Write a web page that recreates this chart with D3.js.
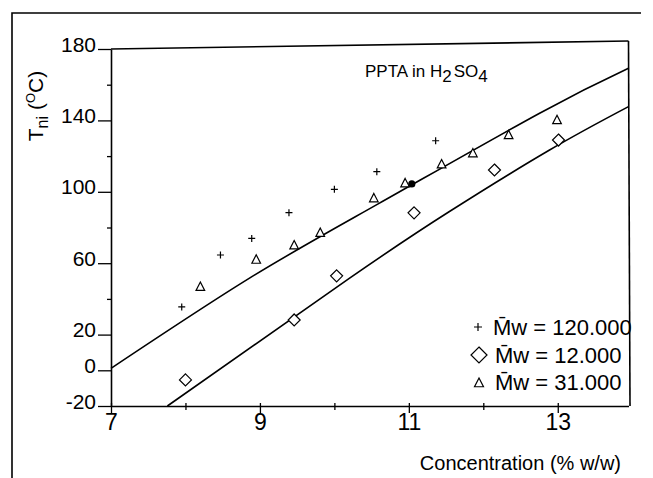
<!DOCTYPE html>
<html>
<head>
<meta charset="utf-8">
<script src="https://cdn.jsdelivr.net/npm/d3@7"></script>
<style>
  html, body { margin: 0; padding: 0; background: #fff; }
  svg { display: block; }
  text { font-family: "Liberation Sans", Arial, Helvetica, sans-serif; fill: #000; }
</style>
</head>
<body>
<svg id="chart" width="653" height="478"></svg>
<script>
// ---------------- data ----------------
const xMajorTicks = [7, 9, 11, 13];
const xMinorTicks = [8, 10, 12];
const yLabelTicks = [180, 140, 100, 60, 20, 0, -20];
const yMinorTicks = [160, 120, 80, 40];

// Mw = 120.000 (plus)
const plusX = [7.95, 8.47, 8.89, 9.39, 10.00, 10.57, 11.36];
const plusY = [35.5, 64.6, 73.9, 88.3, 101.4, 111.3, 128.6];

// Mw = 12.000 (diamond)
const diamondX = [8.00, 9.46, 10.03, 11.07, 12.15, 13.01];
const diamondY = [-5.4, 28.2, 52.9, 88.2, 112.2, 129.0];

// Mw = 31.000 (triangle)
const triX = [8.20, 8.95, 9.46, 9.81, 10.53, 10.95, 11.44, 11.86, 12.34, 12.99];
const triY = [46.8, 62.0, 70.0, 77.0, 96.4, 104.8, 115.4, 121.6, 131.8, 140.2];

// filled point
const dotX = [11.04];
const dotY = [104.4];

// upper curve
const upperX = [7.00, 8.855, 10.60, 12.75, 13.95];
const upperY = [1.1, 51.5, 93.5, 143.9, 169.2];
// lower curve
const lowerX = [7.757, 10.20, 11.54, 12.89, 13.95];
const lowerY = [-20.0, 51.5, 88.8, 123.4, 147.7];

const legendLabels = ["M\u0304w = 120.000", "M\u0304w = 12.000", "M\u0304w = 31.000"];
const legendSymbols = ["plus", "diamond", "triangle"];

// ---------------- layout ----------------
const svg = d3.select("#chart");
const x = d3.scaleLinear().domain([7, 13.95]).range([111, 628.5]);
const y = d3.scaleLinear().domain([-20, 180]).range([406, 49]);

// outer border (top and left)
svg.append("path")
  .attr("d", "M12,478 L12,13 L641,13")
  .attr("fill", "none").attr("stroke", "#000").attr("stroke-width", 1.6);

// frame: top (slightly tilted as in scan) and right
svg.append("line")
  .attr("x1", x(7)).attr("y1", y(180)).attr("x2", x(13.95)).attr("y2", y(180) - 8)
  .attr("stroke", "#000").attr("stroke-width", 1.6);
svg.append("line")
  .attr("x1", x(13.95)).attr("y1", y(180) - 8).attr("x2", x(13.95) + 1.5).attr("y2", y(-20))
  .attr("stroke", "#000").attr("stroke-width", 1.6);

// y axis
const yAxis = d3.axisLeft(y).tickValues(yLabelTicks).tickSize(13).tickSizeOuter(0).tickPadding(2)
  .tickFormat(d => String(d));
const gy = svg.append("g").attr("transform", `translate(${x(7)},0)`).call(yAxis);
gy.select(".domain").attr("stroke-width", 1.6);
gy.selectAll(".tick line").attr("stroke-width", 1.3);
gy.selectAll(".tick text").attr("font-size", 21).attr("dy", "0.1em")
  .attr("font-family", "Liberation Sans, Arial, sans-serif");
const gyMinor = svg.append("g").attr("transform", `translate(${x(7)},0)`)
  .call(d3.axisLeft(y).tickValues(yMinorTicks).tickSize(4).tickSizeOuter(0).tickFormat(""));
gyMinor.select(".domain").remove();
gyMinor.selectAll(".tick line").attr("stroke-width", 1.3);

// x axis
const xAxis = d3.axisBottom(x).tickValues(xMajorTicks).tickSize(7).tickSizeOuter(0).tickPadding(1)
  .tickFormat(d => String(d));
const gx = svg.append("g").attr("transform", `translate(0,${y(-20)})`).call(xAxis);
gx.select(".domain").attr("stroke-width", 1.6);
gx.selectAll(".tick line").attr("stroke-width", 1.3).attr("y1", -3);
gx.selectAll(".tick text").attr("font-size", 23)
  .attr("font-family", "Liberation Sans, Arial, sans-serif");
const gxMinor = svg.append("g").attr("transform", `translate(0,${y(-20)})`)
  .call(d3.axisBottom(x).tickValues(xMinorTicks).tickSize(4).tickSizeOuter(0).tickFormat(""));
gxMinor.select(".domain").remove();
gxMinor.selectAll(".tick line").attr("stroke-width", 1.3).attr("y1", -3);

// axis titles
const yl = svg.append("text")
  .attr("transform", "translate(43,106) rotate(-90)")
  .attr("text-anchor", "middle")
  .attr("font-size", 21);
yl.append("tspan").text("T");
yl.append("tspan").attr("font-size", 16).attr("dy", 5).text("ni");
yl.append("tspan").attr("dy", -5).text("\u00A0(");
yl.append("tspan").attr("font-size", 13).attr("dy", -8).text("O");
yl.append("tspan").attr("dy", 8).text("C)");

svg.append("text")
  .attr("x", 621).attr("y", 470)
  .attr("text-anchor", "end")
  .attr("font-size", 20)
  .text("Concentration (% w/w)");

// plot title
const t = svg.append("text").attr("x", 365).attr("y", 77).attr("font-size", 17);
t.append("tspan").text("PPTA in H");
t.append("tspan").attr("dy", 5).text("2");
t.append("tspan").attr("dy", -5).attr("dx", 2).text("SO");
t.append("tspan").attr("dy", 5).text("4");

// curves
const lineGen = d3.line().x(d => x(d[0])).y(d => y(d[1])).curve(d3.curveNatural);
[[upperX, upperY], [lowerX, lowerY]].forEach(([xs, ys]) => {
  svg.append("path")
    .datum(xs.map((v, i) => [v, ys[i]]))
    .attr("d", lineGen)
    .attr("fill", "none").attr("stroke", "#000").attr("stroke-width", 1.6);
});

// symbols
function drawPlus(g, cx, cy, s) {
  g.append("path")
    .attr("d", `M${cx - s},${cy} H${cx + s} M${cx},${cy - s} V${cy + s}`)
    .attr("stroke", "#000").attr("stroke-width", 1.2).attr("fill", "none");
}
function drawDiamond(g, cx, cy, s) {
  g.append("path")
    .attr("d", `M${cx},${cy - s} L${cx + s},${cy} L${cx},${cy + s} L${cx - s},${cy} Z`)
    .attr("stroke", "#000").attr("stroke-width", 1.2).attr("fill", "#fff");
}
function drawTri(g, cx, cy, s) {
  g.append("path")
    .attr("d", `M${cx},${cy - s} L${cx + s * 0.9},${cy + s * 0.75} L${cx - s * 0.9},${cy + s * 0.75} Z`)
    .attr("stroke", "#000").attr("stroke-width", 1.2).attr("fill", "#fff");
}

const gPts = svg.append("g");
plusX.forEach((v, i) => drawPlus(gPts, x(v), y(plusY[i]), 3.5));
diamondX.forEach((v, i) => drawDiamond(gPts, x(v), y(diamondY[i]), 6));
triX.forEach((v, i) => drawTri(gPts, x(v), y(triY[i]), 4.8));
dotX.forEach((v, i) => gPts.append("circle").attr("cx", x(v)).attr("cy", y(dotY[i])).attr("r", 3.6).attr("fill", "#000"));

// legend
const legY = [327, 355, 382];
legendLabels.forEach((lab, i) => {
  const sym = legendSymbols[i];
  if (sym === "plus") drawPlus(svg, 478, legY[i], 4);
  if (sym === "diamond") drawDiamond(svg, 479, legY[i], 8);
  if (sym === "triangle") drawTri(svg, 479, legY[i] + 1, 5);
  svg.append("text")
    .attr("x", sym === "plus" ? 493 : 495).attr("y", legY[i]).attr("dy", "0.36em")
    .attr("font-size", 22)
    .text(lab);
});
</script>
</body>
</html>
